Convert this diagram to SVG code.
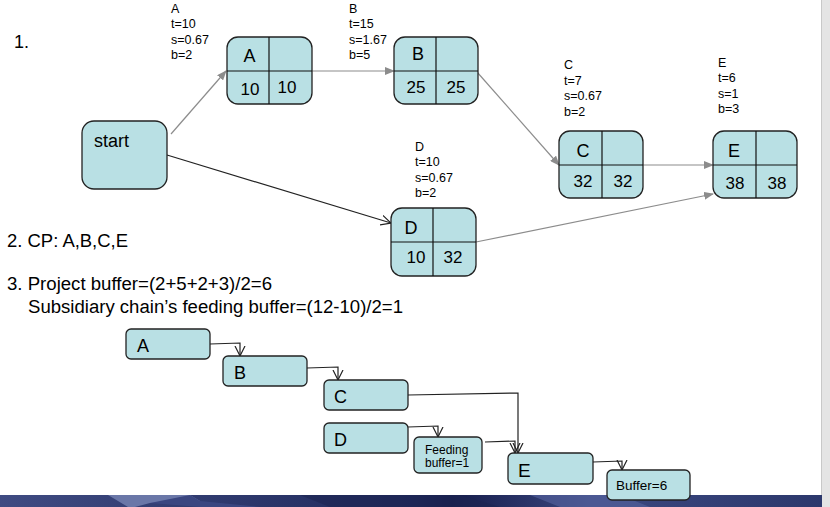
<svg xmlns="http://www.w3.org/2000/svg" width="830" height="507" viewBox="0 0 830 507">
<defs>
<style>
text{font-family:"Liberation Sans",Arial,sans-serif;fill:#000}
.box{fill:#b9e0e4;stroke:#222;stroke-width:1.3}
.div{stroke:#111;stroke-width:1.2}
.big{font-size:18px}
.num{font-size:17px}
.small{font-size:12.5px}
.c{text-anchor:middle}
.gl{stroke:#8c8c8c;stroke-width:1.2;fill:none}
.bl{stroke:#222;stroke-width:1.2;fill:none}
</style>
<marker id="ga" markerWidth="10" markerHeight="8" refX="9" refY="4" orient="auto" markerUnits="userSpaceOnUse">
<path d="M0,0 L10,4 L0,8 Z" fill="#8c8c8c"/>
</marker>
<marker id="va" markerWidth="12" markerHeight="12" refX="10" refY="6" orient="auto" markerUnits="userSpaceOnUse">
<path d="M0,1 L10,6 L0,11" fill="none" stroke="#222" stroke-width="1.2"/>
</marker>
<linearGradient id="bar" x1="0" y1="0" x2="1" y2="0">
<stop offset="0" stop-color="#3f4b82"/>
<stop offset="0.5" stop-color="#202a5c"/>
<stop offset="0.55" stop-color="#161d4c"/>
<stop offset="0.72" stop-color="#3b4880"/>
<stop offset="1" stop-color="#2c386c"/>
</linearGradient>
</defs>
<rect width="830" height="507" fill="#fff"/>
<rect x="821" y="0" width="9" height="507" fill="#e4e4e4"/>
<line x1="821.5" y1="0" x2="821.5" y2="507" stroke="#c8c8c8"/>
<g id="footer">
<rect x="0" y="495" width="822" height="12" fill="url(#bar)"/>
<path d="M108,495 L190,495 L200,501 L150,503 L135,507 L128,507 Z" fill="#6a77a8"/>
<path d="M190,495 L200,501 L260,507 L200,507 L150,503 Z" fill="#3a4680"/>
<path d="M300,495 L460,495 L500,507 L330,507 Z" fill="#1c2452" opacity="0.6"/>
<path d="M530,495 L620,495 L650,507 L560,507 Z" fill="#5664a0" opacity="0.6"/>
</g>
<g id="notes">
<text x="14" y="48" class="big">1.</text>
<text x="7" y="247" class="big" textLength="121" lengthAdjust="spacingAndGlyphs">2. CP: A,B,C,E</text>
<text x="7" y="290" class="big" textLength="265" lengthAdjust="spacingAndGlyphs">3. Project buffer=(2+5+2+3)/2=6</text>
<text x="28" y="313" class="big" textLength="375" lengthAdjust="spacingAndGlyphs">Subsidiary chain’s feeding buffer=(12-10)/2=1</text>
</g>
<g id="labels" class="small">
<text x="171" y="13">A</text><text x="171" y="28">t=10</text><text x="171" y="44">s=0.67</text><text x="171" y="59">b=2</text>
<text x="349" y="13">B</text><text x="349" y="28">t=15</text><text x="349" y="44">s=1.67</text><text x="349" y="59">b=5</text>
<text x="564" y="69">C</text><text x="564" y="85">t=7</text><text x="564" y="100">s=0.67</text><text x="564" y="116">b=2</text>
<text x="718" y="67">E</text><text x="718" y="82">t=6</text><text x="718" y="98">s=1</text><text x="718" y="113">b=3</text>
<text x="415" y="151">D</text><text x="415" y="166">t=10</text><text x="415" y="182">s=0.67</text><text x="415" y="197">b=2</text>
</g>
<g id="connectors">
<line class="gl" x1="171" y1="134" x2="226" y2="71" marker-end="url(#ga)"/>
<line class="gl" x1="312" y1="71" x2="394" y2="71" marker-end="url(#ga)"/>
<line class="gl" x1="477" y1="72" x2="559" y2="165" marker-end="url(#ga)"/>
<line class="gl" x1="632" y1="165" x2="713" y2="165" marker-end="url(#ga)"/>
<line class="gl" x1="476" y1="242" x2="713" y2="194" marker-end="url(#ga)"/>
<line class="bl" x1="167" y1="155" x2="391" y2="223" marker-end="url(#va)"/>
<polyline class="bl" points="210,344 240,343 240,356" marker-end="url(#va)"/>
<polyline class="bl" points="307,368 338,367 338,380" marker-end="url(#va)"/>
<polyline class="bl" points="408,395 518,393 518,453" marker-end="url(#va)"/>
<polyline class="bl" points="408,427 438,426 438,437" marker-end="url(#va)"/>
<polyline class="bl" points="485,442 515,441 515,453" marker-end="url(#va)"/>
<polyline class="bl" points="593,462 622,461 622,470" marker-end="url(#va)"/>
</g>
<g id="node-start">
<rect class="box" x="82" y="121" width="85" height="68" rx="12"/>
<text x="94" y="147" class="big">start</text>
</g>
<g id="node-A">
<rect class="box" x="227" y="37" width="85" height="67" rx="11"/>
<line class="div" x1="227" y1="71" x2="312" y2="71"/><line class="div" x1="269" y1="37" x2="269" y2="104"/>
<text x="249.5" y="62" class="big c">A</text><text x="250" y="95" class="num c">10</text><text x="287" y="93" class="num c">10</text>
</g>
<g id="node-B">
<rect class="box" x="394" y="37" width="84" height="67" rx="11"/>
<line class="div" x1="394" y1="71" x2="478" y2="71"/><line class="div" x1="436" y1="37" x2="436" y2="104"/>
<text x="418" y="60" class="big c">B</text><text x="416" y="93" class="num c">25</text><text x="456" y="93" class="num c">25</text>
</g>
<g id="node-C">
<rect class="box" x="559" y="131" width="84" height="67" rx="11"/>
<line class="div" x1="559" y1="165" x2="643" y2="165"/><line class="div" x1="602" y1="131" x2="602" y2="198"/>
<text x="583" y="157" class="big c">C</text><text x="583" y="187" class="num c">32</text><text x="623" y="187" class="num c">32</text>
</g>
<g id="node-E">
<rect class="box" x="713" y="131" width="84" height="67" rx="11"/>
<line class="div" x1="713" y1="165" x2="797" y2="165"/><line class="div" x1="756" y1="131" x2="756" y2="198"/>
<text x="734" y="157" class="big c">E</text><text x="735" y="189" class="num c">38</text><text x="777" y="189" class="num c">38</text>
</g>
<g id="node-D">
<rect class="box" x="391" y="208" width="85" height="68" rx="11"/>
<line class="div" x1="391" y1="242" x2="476" y2="242"/><line class="div" x1="433" y1="208" x2="433" y2="276"/>
<text x="411" y="234" class="big c">D</text><text x="416" y="263" class="num c">10</text><text x="453" y="263" class="num c">32</text>
</g>
<g id="chain-A"><rect class="box" x="126" y="329" width="84" height="30" rx="5"/><text x="137" y="352" class="big">A</text></g>
<g id="chain-B"><rect class="box" x="223" y="356" width="84" height="30" rx="5"/><text x="234" y="379" class="big">B</text></g>
<g id="chain-C"><rect class="box" x="324" y="380" width="84" height="30" rx="5"/><text x="334" y="403" class="big">C</text></g>
<g id="chain-D"><rect class="box" x="324" y="423" width="84" height="30" rx="5"/><text x="334" y="446" class="big">D</text></g>
<g id="chain-feeding"><rect class="box" x="414" y="437" width="68" height="36" rx="5"/><text x="425" y="454" font-size="12">Feeding</text><text x="425" y="467" font-size="12">buffer=1</text></g>
<g id="chain-E"><rect class="box" x="508" y="453" width="85" height="31" rx="5"/><text x="518" y="477" font-size="19">E</text></g>
<g id="chain-buffer"><rect class="box" x="607" y="470" width="83" height="30" rx="5"/><text x="616" y="490" font-size="13.5">Buffer=6</text></g>
</svg>
